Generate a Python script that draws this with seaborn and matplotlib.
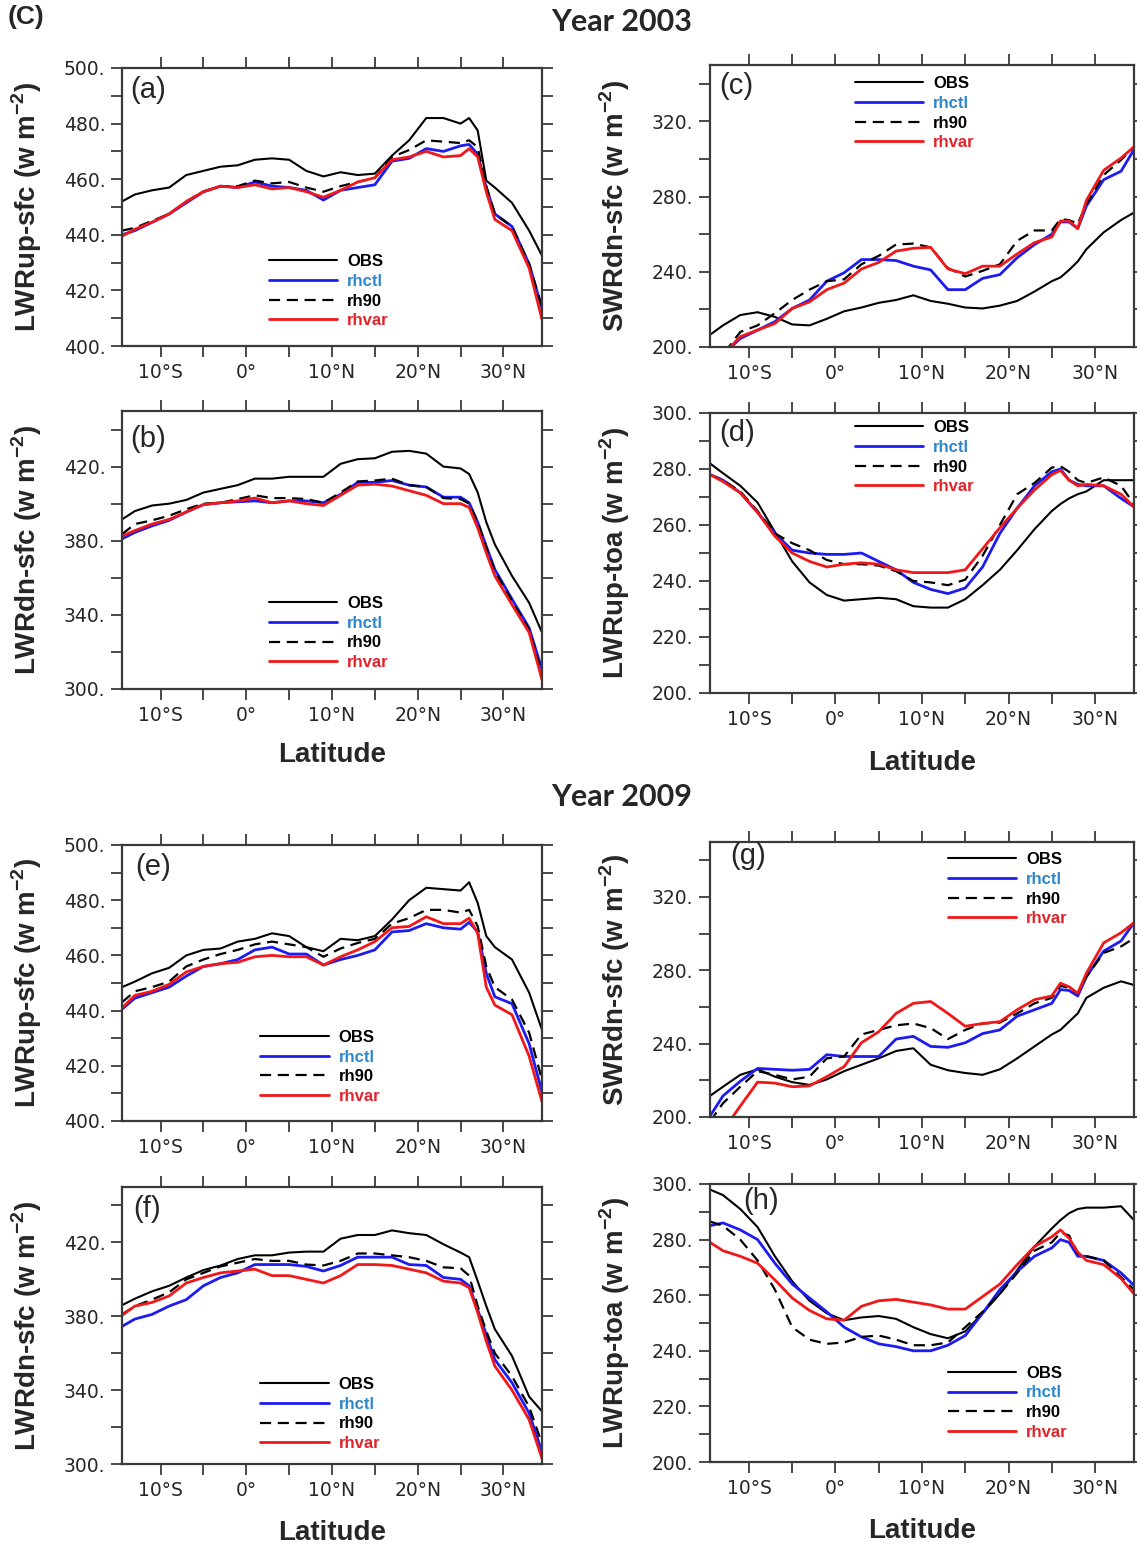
import numpy as np
import pandas as pd
import matplotlib
matplotlib.use("Agg")
import matplotlib.pyplot as plt
import seaborn as sns

# latitude grid shared by all panels
lat = [-14.5, -13, -11, -9, -7, -5, -3, -1, 1, 3, 5, 7, 9, 11, 13, 15,
       17, 19, 21, 23, 25, 26, 27, 28, 29, 31, 33, 34.5]

# (a) LWRup-sfc, 2003
obs_a = [452, 454.5, 456, 457, 461.5, 463, 464.5, 465, 467, 467.5, 467, 463, 461, 462.5,
         461.5, 462, 468.5, 474, 482, 482, 480, 482, 477.5, 459.5, 457, 451.5, 441.5, 432.5]
rhctl_a = [440, 441.5, 444.5, 447.5, 451.5, 455.5, 457.5, 457, 459, 457.5, 457, 456, 452.5, 456,
           457, 458, 466.5, 467.5, 471, 470, 472, 472.5, 469, 457, 447.5, 443, 429.5, 413.5]
rh90_a = [441.5, 442.5, 445, 447.5, 452, 455.5, 457.5, 457.5, 459.5, 458.5, 459, 457, 455.5, 457.5,
          459, 460.5, 468, 470.5, 474, 473.5, 473, 474, 471.5, 457.5, 447.5, 443, 429.5, 414]
rhvar_a = [439.5, 442, 444.5, 447.5, 452, 455.5, 457.5, 457, 458, 456.5, 457, 455.5, 453.5, 456,
           459, 460.5, 467, 468, 470, 468, 468.5, 471, 468, 455.5, 445.5, 441.5, 428, 409.5]

# (c) SWRdn-sfc, 2003
obs_c = [206.5, 211.5, 217, 218.5, 216, 212, 211.5, 215, 219, 221, 223.5, 225, 227.5, 224.5,
         223, 221, 220.5, 222, 224.5, 229.5, 235, 237, 241, 245.5, 252, 261, 267.5, 271.5]
rhctl_c = [191, 196, 204.5, 209, 213.5, 220.5, 225, 235, 239.5, 246.5, 246.5, 246, 243, 241,
           230.5, 230.5, 236.5, 238.5, 247.5, 254.5, 260, 266.5, 266.5, 263, 275, 289, 293.5, 305]
rh90_c = [192, 196, 208, 211.5, 218, 225, 230.5, 235, 236, 244, 248.5, 254.5, 255, 253,
          242, 237.5, 240.5, 244, 256.5, 262, 262, 268, 267.5, 265.5, 276, 291.5, 299.5, 306.5]
rhvar_c = [191, 196, 205.5, 209, 212.5, 220.5, 224, 230.5, 234, 241.5, 245, 251, 252.5, 253,
           241.5, 239, 243, 243, 249.5, 255.5, 258.5, 267, 267, 263, 278, 294, 300.5, 306.5]

# (b) LWRdn-sfc, 2003
obs_b = [391.5, 396, 399, 400, 402, 406, 408, 410, 413.5, 413.5, 414.5, 414.5, 414.5, 421.5,
         424, 424.5, 428, 428.5, 427, 420, 419, 416, 406, 390, 378, 361, 346.5, 330.5]
rhctl_b = [381, 384.5, 388, 391, 395.5, 399.5, 400.5, 401, 401.5, 400.5, 401.5, 401.5, 400.5, 405,
           411.5, 411.5, 412.5, 410, 409, 403.5, 403.5, 400.5, 390, 377, 364.5, 348.5, 333, 310.5]
rh90_b = [383.5, 389, 391, 393.5, 397, 400, 400.5, 402.5, 404.5, 403, 403, 402.5, 400.5, 406,
          412, 412.5, 413.5, 410, 409, 403, 402.5, 400, 390, 376.5, 363.5, 347.5, 332, 308.5]
rhvar_b = [382.5, 385.5, 389, 391.5, 395.5, 399.5, 400.5, 401.5, 403, 400.5, 401.5, 400, 399, 404.5,
           410, 410.5, 409.5, 407, 404.5, 400, 400, 398, 387, 373.5, 361, 345.5, 330.5, 305]

# (d) LWRup-toa, 2003
obs_d = [282, 278.5, 274, 268, 257.5, 247, 239.5, 235, 233, 233.5, 234, 233.5, 231, 230.5,
         230.5, 233.5, 238.5, 244, 251, 258.5, 265, 267.5, 269.5, 271, 272, 276, 276, 276]
rhctl_d = [278, 276, 271.5, 264.5, 257, 251, 250, 249.5, 249.5, 250, 247, 244, 239.5, 237,
           235.5, 237.5, 245, 257, 266, 274, 279, 280, 276, 274.5, 274, 274, 269.5, 266.5]
rh90_d = [278, 276, 272, 265, 257, 253.5, 251, 247.5, 246, 246, 245.5, 243.5, 240, 239.5,
          238.5, 240.5, 249, 260, 271, 275, 280.5, 281, 279, 276, 275, 277, 274, 267.5]
rhvar_d = [278, 275.5, 271.5, 264.5, 256, 250, 247, 245, 246, 246.5, 246, 244, 243, 243,
           243, 244, 251.5, 259, 266, 272.5, 278, 279.5, 276, 274, 274.5, 274, 271, 266.5]

# (e) LWRup-sfc, 2009
obs_e = [448.5, 450.5, 453.5, 455.5, 460, 462, 462.5, 465, 466, 468, 467, 463, 461.5, 466,
         465.5, 467, 473, 480, 484.5, 484, 483.5, 486.5, 479, 467, 463, 458.5, 446.5, 433]
rhctl_e = [440.5, 444.5, 446.5, 448.5, 452.5, 456, 457, 458.5, 462, 463, 460.5, 460.5, 456.5, 458.5,
           460, 462, 468.5, 469, 471.5, 470, 469.5, 472, 468.5, 453.5, 445, 442.5, 428, 410.5]
rh90_e = [443, 447, 448.5, 450.5, 456, 458.5, 460.5, 462, 464, 465, 464, 463, 459.5, 462.5,
          464.5, 466, 471.5, 473.5, 476.5, 476.5, 475.5, 476.5, 470.5, 456, 448.5, 444, 432, 415]
rhvar_e = [441, 445.5, 447, 449.5, 454, 456, 457, 457.5, 459.5, 460, 459.5, 459.5, 456.5, 459.5,
           462, 465, 470, 470.5, 474, 471.5, 471.5, 473.5, 468, 448.5, 442, 438.5, 423.5, 407]

# (g) SWRdn-sfc, 2009
obs_g = [211.5, 216.5, 223, 226, 222, 219, 217.5, 220.5, 225, 228.5, 232, 236, 237.5, 228.5,
         225.5, 224, 223, 226, 232, 238.5, 245, 247.5, 252, 256.5, 265, 270.5, 274, 272]
rhctl_g = [200.5, 211.5, 219.5, 226.5, 226, 225.5, 226, 234, 233, 233, 233, 242.5, 244, 238.5,
           238, 240.5, 245.5, 247.5, 255, 258.5, 262, 269.5, 269, 266, 276.5, 290.5, 296, 306]
rh90_g = [197.5, 207.5, 216.5, 225, 223, 220.5, 222, 232, 233, 245, 247.5, 250, 251, 248.5,
          242.5, 247.5, 251, 251.5, 256.5, 262, 265, 271.5, 270.5, 267.5, 276.5, 289.5, 293, 297.5]
rhvar_g = [182, 192.5, 206, 219, 218.5, 216.5, 217, 222, 227.5, 240.5, 246.5, 256.5, 262, 263,
           256.5, 249.5, 251, 252, 258.5, 264, 266, 273, 271, 267.5, 278.5, 295, 300.5, 306]

# (f) LWRdn-sfc, 2009
obs_f = [386, 389.5, 393.5, 396.5, 401, 405, 407.5, 411, 413, 413, 414.5, 415, 415, 422,
         424, 424, 426.5, 425, 424, 419, 414.5, 412, 399, 385.5, 373, 358.5, 336.5, 328.5]
rhctl_f = [374.5, 378.5, 381, 385.5, 389, 396.5, 401, 403.5, 408, 408, 408, 407, 404.5, 407.5,
           412, 412, 412, 408, 407.5, 401, 400, 396.5, 383.5, 370, 356.5, 344, 327.5, 306.5]
rh90_f = [381, 385.5, 389, 393, 400, 403.5, 407, 409, 411, 410, 410, 408, 407.5, 410,
          414, 414, 413, 412, 410, 406.5, 406, 402, 385.5, 372, 360, 347.5, 331, 311]
rhvar_f = [380.5, 385.5, 387.5, 391, 398, 401, 403.5, 404.5, 405.5, 402, 402, 400, 398, 402,
           408, 408, 407.5, 405.5, 403.5, 399, 398, 395.5, 382, 366.5, 353, 340, 324, 303]

# (h) LWRup-toa, 2009
obs_h = [298, 296, 291, 284.5, 274, 265, 258, 253.5, 251, 252, 252.5, 251.5, 248.5, 246,
         244.5, 247, 253.5, 260.5, 269, 277.5, 284, 287, 289.5, 291, 291.5, 291.5, 292, 287]
rhctl_h = [285, 286, 283.5, 280, 271.5, 264, 259, 254, 248.5, 245, 242.5, 241.5, 240, 240,
           242, 245.5, 253.5, 262, 268.5, 274, 277, 280, 279, 274, 274, 272.5, 268, 263.5]
rh90_h = [286.5, 285, 280, 272.5, 262, 248.5, 244, 242.5, 243, 245, 245.5, 244, 242, 242,
          243, 248.5, 254, 260.5, 268, 276, 279, 282.5, 281.5, 275, 274, 272.5, 266.5, 262]
rhvar_h = [279, 276, 274, 271.5, 265.5, 259, 254.5, 251.5, 251, 256, 258, 258.5, 257.5, 256.5,
           255, 255, 259.5, 264, 271, 277.5, 281, 283.5, 280.5, 275.5, 272.5, 271, 266, 260.5]

runs = ["OBS", "rhctl", "rh90", "rhvar"]
lat_ticks = [-10, -5, 0, 5, 10, 15, 20, 25, 30]
lat_labels = ["10°S", "", "0°", "", "10°N", "", "20°N", "", "30°N"]

sns.set_style("ticks")
plt.rcParams["font.family"] = ["DejaVu Sans"]
plt.rcParams["mathtext.fontset"] = "custom"
plt.rcParams["mathtext.rm"] = "Liberation Sans"
plt.rcParams["mathtext.bf"] = "Liberation Sans:bold"

line_color = {"OBS": "black", "rhctl": "#1c1cf2", "rh90": "black", "rhvar": "#f01818"}
text_color = {"OBS": "black", "rhctl": "#2c87cc", "rh90": "black", "rhvar": "#e0242a"}
line_width = {"OBS": 1.5, "rhctl": 2.0, "rh90": 1.6, "rhvar": 2.0}

W, H = 1137, 1547


def box(x0, x1, y0, y1):
    return [x0 / W, 1 - y1 / H, (x1 - x0) / W, (y1 - y0) / H]


def ylab(name):
    return name + r" (w m$^{\mathbf{-2}}$)"


# letter, series, y range, y step, label step, ylabel, axes box, legend anchor, letter pos, xlabel pos
panels = [
    ("(a)", (obs_a, rhctl_a, rh90_a, rhvar_a), (400, 500), 10, 20, "LWRup-sfc",
     box(122, 542, 68, 346), (0.35, 0.33), (0.02, 0.97), None),
    ("(c)", (obs_c, rhctl_c, rh90_c, rhvar_c), (200, 350), 20, 40, "SWRdn-sfc",
     box(710, 1134, 65, 347), (0.342, 0.96), (0.021, 0.975), None),
    ("(b)", (obs_b, rhctl_b, rh90_b, rhvar_b), (300, 450), 20, 40, "LWRdn-sfc",
     box(122, 542, 411, 689), (0.35, 0.334), (0.02, 0.95), -0.19),
    ("(d)", (obs_d, rhctl_d, rh90_d, rhvar_d), (200, 300), 10, 20, "LWRup-toa",
     box(710, 1134, 413, 693), (0.342, 0.974), (0.021, 0.98), -0.204),
    ("(e)", (obs_e, rhctl_e, rh90_e, rhvar_e), (400, 500), 10, 20, "LWRup-sfc",
     box(122, 542, 845, 1121), (0.329, 0.33), (0.031, 0.97), None),
    ("(g)", (obs_g, rhctl_g, rh90_g, rhvar_g), (200, 350), 20, 40, "SWRdn-sfc",
     box(710, 1134, 842, 1117), (0.561, 0.963), (0.047, 1.0), None),
    ("(f)", (obs_f, rhctl_f, rh90_f, rhvar_f), (300, 450), 20, 40, "LWRdn-sfc",
     box(122, 542, 1187, 1464), (0.329, 0.314), (0.026, 0.97), -0.202),
    ("(h)", (obs_h, rhctl_h, rh90_h, rhvar_h), (200, 300), 10, 20, "LWRup-toa",
     box(710, 1134, 1184, 1462), (0.561, 0.346), (0.078, 0.99), -0.2),
]

fig = plt.figure(figsize=(W / 100, H / 100), dpi=100)

for letter, series, ylim, ystep, lstep, name, pos, leg_xy, let_xy, xl in panels:
    ax = fig.add_axes(pos)
    for run, vals in zip(runs, series):
        sns.lineplot(x=lat, y=vals, ax=ax, color=line_color[run],
                     lw=line_width[run], legend=False)
        if run == "rh90":
            ax.lines[-1].set_dashes((5, 3))

    ax.set_xlim(-14.5, 34.5)
    ax.set_ylim(*ylim)
    ax.set_xticks(lat_ticks)
    ax.set_xticklabels(lat_labels)
    yt = np.arange(ylim[0], ylim[1] + 1, ystep)
    ax.set_yticks(yt)
    ax.set_yticklabels([f"{v:d}." if (v - ylim[0]) % lstep == 0 else "" for v in yt])
    ax.tick_params(which="both", direction="out", top=True, right=True,
                   length=8, width=1.3, color="#3a3a3a", labelsize=13.5, pad=4)
    for sp in ax.spines.values():
        sp.set_visible(True)
        sp.set_linewidth(1.6)
        sp.set_color("#3a3a3a")

    ax.set_ylabel(ylab(name), fontsize=20, fontweight="bold", family="Liberation Sans")
    ax.yaxis.set_label_coords(-0.185, 0.5)
    if xl is not None:
        ax.set_xlabel("Latitude", fontsize=20, fontweight="bold", family="Liberation Sans")
        ax.xaxis.set_label_coords(0.5, xl)
    else:
        ax.set_xlabel("")

    ax.text(let_xy[0], let_xy[1], letter, transform=ax.transAxes, ha="left", va="top",
            fontsize=21, family="Liberation Sans")

    leg = ax.legend(ax.lines[:4], runs, loc="upper left", bbox_to_anchor=leg_xy,
                    frameon=False, borderpad=0, borderaxespad=0, handlelength=4.1,
                    handletextpad=0.6, labelspacing=0.28,
                    prop={"family": "Liberation Sans", "weight": "bold", "size": 12})
    for t, run in zip(leg.get_texts(), runs):
        t.set_color(text_color[run])

fig.text(8 / W, 1 - 5 / H, "(C)", ha="left", va="top", fontsize=19,
         fontweight="bold", family="Liberation Sans")
fig.text(622 / W, 1 - 22 / H, "Year 2003", ha="center", va="center", fontsize=22,
         fontweight="bold", family="Lato")
fig.text(622 / W, 1 - 797 / H, "Year 2009", ha="center", va="center", fontsize=22,
         fontweight="bold", family="Lato")

fig.savefig("out.png", dpi=100)
